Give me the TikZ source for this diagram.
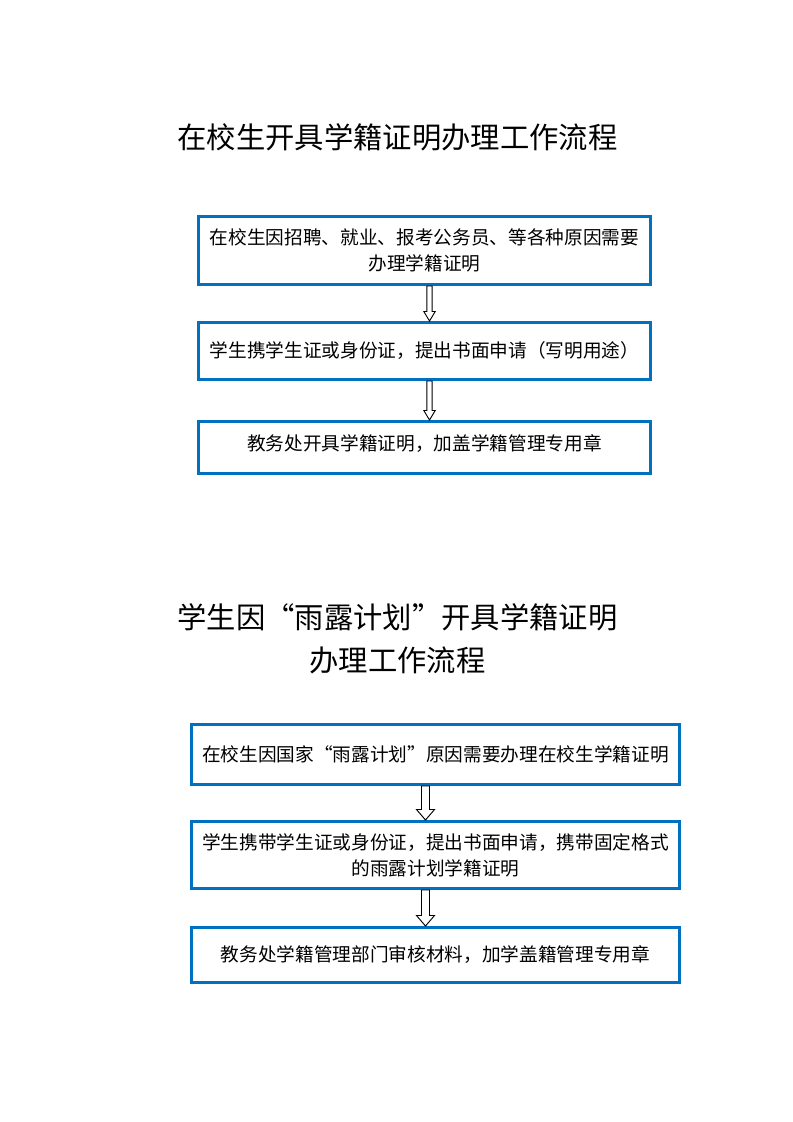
\documentclass[tikz,border=0pt]{standalone}
\usepackage{fontspec}
\setmainfont{Noto Sans CJK SC}
\usepackage{tikz}
\usetikzlibrary{calc}

\definecolor{boxblue}{RGB}{0,112,192}

% hollow block arrow from the bottom of one box to the top of the next
% #3 sideways shift, #4 half shaft, #5 half head, #6 head length
\newcommand{\flowarrow}[6]{%
    \draw[arrow line] ($(#1.south)+(#3-#4,0)$) -- ($(#2.north)+(#3-#4,-#6)$)
        -- ($(#2.north)+(#3-#5,-#6)$) -- ($(#2.north)+(#3,0)$) -- ($(#2.north)+(#3+#5,-#6)$)
        -- ($(#2.north)+(#3+#4,-#6)$) -- ($(#1.south)+(#3+#4,0)$) -- cycle;}

\begin{document}
\begin{tikzpicture}[x=0.75pt, y=-0.75pt]
    \tikzstyle{title}=[
        font = \fontsize{22}{32}\selectfont,
        align = center,
        inner sep = 0pt
    ]
    \tikzstyle{flow box}=[
        draw = boxblue,
        line width = 2.25pt,
        fill = white,
        font = \fontsize{14}{19.5}\selectfont,
        align = center,
        inner sep = 0pt
    ]
    \tikzstyle{arrow line}=[
        draw = black,
        line width = 0.7pt,
        fill = white,
        line join = miter
    ]

    \useasboundingbox (0,0) rectangle (793,1122);

    % first flow
    \node[title] (t1) at (397.5, 137) {在校生开具学籍证明办理工作流程};

    \node[flow box, minimum width=339pt, minimum height=51pt] (a1) at (424.5, 250.5)
        {在校生因招聘、就业、报考公务员、等各种原因需要\\办理学籍证明};
    \node[flow box, minimum width=339pt, minimum height=42.75pt] (a2) at (424.5, 351)
        {学生携学生证或身份证，提出书面申请（写明用途）};
    \node[flow box, minimum width=339pt, minimum height=39pt, text depth=8pt] (a3) at (424.5, 447.5)
        {教务处开具学籍证明，加盖学籍管理专用章};

    \flowarrow{a1}{a2}{5}{2.7}{5.7}{9.5}
    \flowarrow{a2}{a3}{5}{2.7}{5.7}{9.5}

    % second flow
    \node[title] (t2) at (397.5, 638.5) {学生因“雨露计划”开具学籍证明\\办理工作流程};

    \node[flow box, minimum width=366pt, minimum height=45pt] (b1) at (435.5, 754.5)
        {在校生因国家“雨露计划”原因需要办理在校生学籍证明};
    \node[flow box, minimum width=366pt, minimum height=50.25pt] (b2) at (435.5, 855)
        {学生携带学生证或身份证，提出书面申请，携带固定格式\\的雨露计划学籍证明};
    \node[flow box, minimum width=366pt, minimum height=41.25pt] (b3) at (435.5, 955)
        {教务处学籍管理部门审核材料，加学盖籍管理专用章};

    \flowarrow{b1}{b2}{-10}{4}{9}{10.5}
    \flowarrow{b2}{b3}{-10}{4}{9}{10.5}

\end{tikzpicture}
\end{document}
